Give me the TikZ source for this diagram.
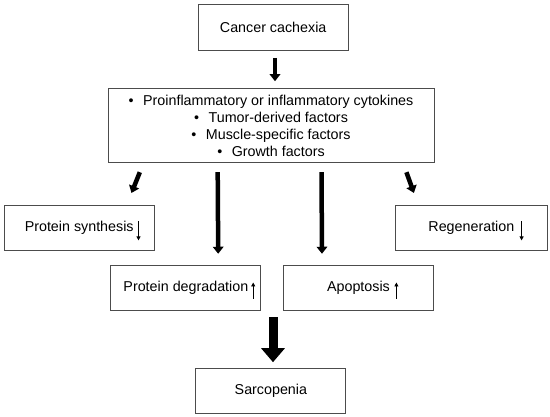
\documentclass[tikz,border=0pt]{standalone}
\usepackage{fontspec}
\setmainfont{Liberation Sans}
\usetikzlibrary{arrows.meta,calc}
\begin{document}
\begin{tikzpicture}[x=1pt,y=-1pt,
  box/.style={draw=black!70,line width=1pt,minimum width=150pt,minimum height=45.5pt,inner sep=0pt,font=\fontsize{14.3}{17}\selectfont},
  fat/.style={line width=4.5pt,-{Triangle[width=10.5pt,length=7pt]}},
  huge/.style={line width=9pt,-{Triangle[width=23pt,length=14pt]}},
  tiny/.style={line width=0.9pt,-{Triangle[width=4pt,length=4pt]}}]
\useasboundingbox (0,0) rectangle (550,417);
\fill[white] (0,0) rectangle (550,417);

\node[box,minimum height=46pt] (cach) at (273.2,27.7) {Cancer cachexia};
\node[box,minimum width=326pt,minimum height=74.4pt,align=center] (fact) at (271,125.5)
  {•\hspace{9.5pt}Proinflammatory or inflammatory cytokines\\
   •\hspace{9.5pt}Tumor-derived factors\\
   •\hspace{9.5pt}Muscle-specific factors\\
   •\hspace{9.5pt}Growth factors};
\node[box,minimum width=150.3pt] (ps) at (79.2,227.9) {Protein synthesis};
\node[box,minimum width=151.6pt] (regen) at (471.4,227.9) {Regeneration};
\node[box] (pd) at (185.9,288) {Protein degradation};
\node[box] (apop) at (358.5,288) {Apoptosis};
\node[box,minimum height=45pt] (sarc) at (270.9,390.8) {Sarcopenia};

% main arrows
\draw[fat] ($(cach.south)+(1.8,6.6)$) -- ($(fact.north)+(4,-6.6)$);
\draw[fat] ($(fact.south west)+(32.3,9)$) -- ($(ps.north)+(52.3,-11.7)$);
\draw[fat] ($(fact.south west)+(110.2,9)$) -- ($(pd.north)+(32.3,-11)$);
\draw[fat] ($(fact.south west)+(214,9)$) -- ($(apop.north)+(-36.5,-11)$);
\draw[fat] ($(fact.south west)+(298.9,9)$) -- ($(regen.north)+(-57.5,-11.7)$);
\draw[huge] ($(sarc.north)+(2.1,-50.3)$) -- ($(sarc.north)+(2.1,-5.6)$);

% small up/down arrows beside the texts
\draw[tiny] ($(ps.center)+(59.3,-6.5)$) -- ($(ps.center)+(59.3,12.5)$);
\draw[tiny] ($(regen.center)+(50.2,-6.5)$) -- ($(regen.center)+(50.2,12.5)$);
\draw[tiny] ($(pd.center)+(67.3,11)$) -- ($(pd.center)+(67.3,-5.5)$);
\draw[tiny] ($(apop.center)+(37.9,11)$) -- ($(apop.center)+(37.9,-5.5)$);
\end{tikzpicture}
\end{document}
